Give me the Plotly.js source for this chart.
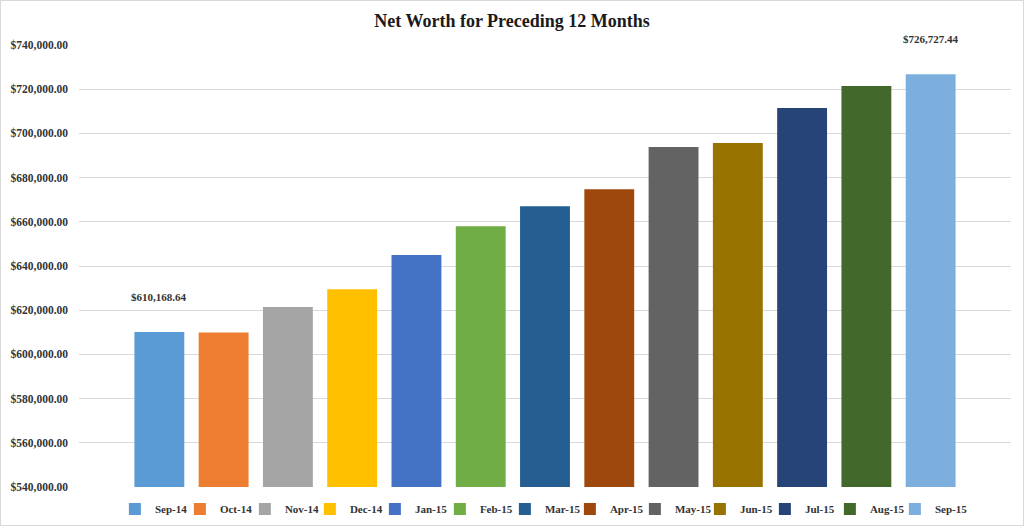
<!DOCTYPE html>
<html>
<head>
<meta charset="utf-8">
<script src="https://cdn.plot.ly/plotly-3.0.1.min.js"></script>
<style>
  html, body { margin: 0; padding: 0; background: #fff; }
  #chart { width: 1022px; height: 524px; border: 1px solid #d9d9d9; }
</style>
</head>
<body>
<div id="chart"></div>
<script>
// months, one bar (and one legend entry) each
var months = ['Sep-14', 'Oct-14', 'Nov-14', 'Dec-14', 'Jan-15', 'Feb-15', 'Mar-15',
              'Apr-15', 'May-15', 'Jun-15', 'Jul-15', 'Aug-15', 'Sep-15'];

// net worth (first and last are labelled)
var netWorth = [610168.64, 609900, 621500, 629500, 645000, 658000, 667000,
                674700, 693900, 695700, 711500, 721500, 726727.44];

var colors = ['#5B9BD5', '#ED7D31', '#A5A5A5', '#FFC000', '#4472C4', '#70AD47', '#255E91',
              '#9E480E', '#636363', '#997300', '#264478', '#43682B', '#7CAFDD'];

// which bars get a value label
var labelled = ['Sep-14', 'Sep-15'];

var serif = 'Liberation Serif, DejaVu Serif, serif';

var traces = months.map(function (m, i) {
  return {
    x: [m],
    y: [netWorth[i]],
    name: m,
    type: 'bar',
    marker: { color: colors[i] },
    hoverinfo: 'name+y'
  };
});

// invisible extra legend entry (zero-height, transparent) so the
// real last label is not cut off by the legend box
traces.push({
  x: [months[0]],
  y: [0],
  name: ' ',
  type: 'bar',
  marker: { color: 'rgba(0,0,0,0)' },
  hoverinfo: 'skip'
});

var annotations = labelled.map(function (m) {
  var i = months.indexOf(m);
  return {
    x: m,
    y: netWorth[i],
    text: '<b>$' + netWorth[i].toLocaleString('en-US', { minimumFractionDigits: 2 }) + '</b>',
    showarrow: false,
    yshift: 35,
    font: { family: serif, size: 11, color: '#333' }
  };
});

var layout = {
  title: {
    text: '<b>Net Worth for Preceding 12 Months</b>',
    font: { family: serif, size: 18, color: '#1a1a1a' },
    x: 0.5,
    y: 0.962,
    yanchor: 'middle'
  },
  margin: { l: 78, r: 12, t: 44, b: 38, autoexpand: false },
  paper_bgcolor: '#fff',
  plot_bgcolor: '#fff',
  barmode: 'overlay',
  bargap: 0.224,
  showlegend: true,
  legend: {
    orientation: 'h',
    x: 0.0385,
    xanchor: 'left',
    y: -0.05,
    yanchor: 'middle',
    font: { family: serif, size: 11, color: '#333', weight: 'bold' },
    itemwidth: 30,
    entrywidth: 20,
    entrywidthmode: 'pixels',
    traceorder: 'normal'
  },
  xaxis: {
    type: 'category',
    range: [-1.25, 13.25],
    showticklabels: false,
    showgrid: false,
    zeroline: false,
    showline: false,
    ticks: ''
  },
  yaxis: {
    range: [540000, 740000],
    dtick: 20000,
    tickformat: '$,.2f',
    tickfont: { family: serif, size: 11.5, color: '#333', weight: 'bold' },
    ticklabelstandoff: 10,
    gridcolor: '#d9d9d9',
    gridwidth: 1,
    zeroline: false,
    showline: false,
    ticks: '',
    automargin: false
  },
  annotations: annotations
};

Plotly.newPlot('chart', traces, layout, { displayModeBar: false, staticPlot: true });
</script>
</body>
</html>
